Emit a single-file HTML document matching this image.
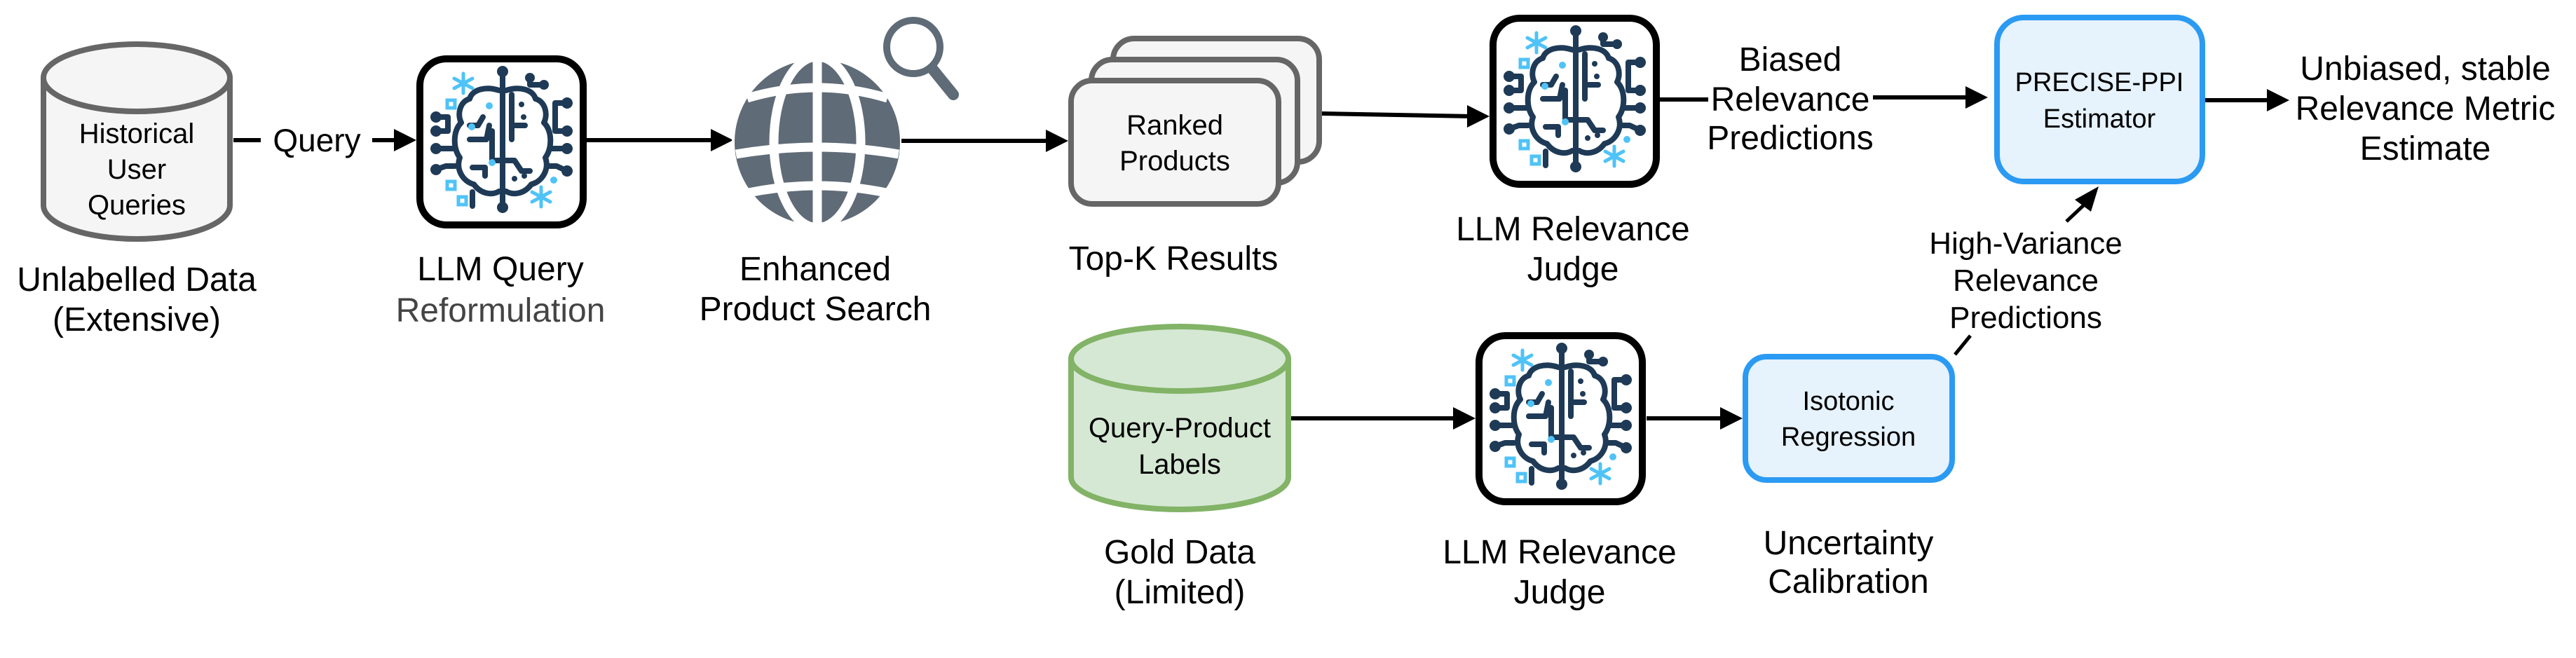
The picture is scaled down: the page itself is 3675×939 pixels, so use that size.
<!DOCTYPE html>
<html><head><meta charset="utf-8"><style>
html,body{margin:0;padding:0;background:#fff;}
svg{display:block;}
text{font-family:"Liberation Sans",Arial,sans-serif;fill:#000;}
</style></head><body>
<svg width="3675" height="939" viewBox="0 0 3675 939" xmlns="http://www.w3.org/2000/svg">

<!-- Cylinder 1 -->
<g stroke="#666" stroke-width="8" fill="#f5f5f5">
<path d="M62,111 L62,293 A133,48 0 0 0 328,293 L328,111"/>
<ellipse cx="195" cy="111" rx="133" ry="48"/>
</g>
<g font-size="40" text-anchor="middle">
<text x="195" y="204">Historical</text>
<text x="195" y="255">User</text>
<text x="195" y="306">Queries</text>
</g>
<g font-size="48" text-anchor="middle">
<text x="195" y="415">Unlabelled Data</text>
<text x="195" y="472">(Extensive)</text>
</g>

<!-- Query arrow -->
<line x1="333" y1="200" x2="372" y2="200" stroke="#000" stroke-width="6"/>
<text x="452" y="216" font-size="46" text-anchor="middle">Query</text>
<line x1="531" y1="200" x2="570" y2="200" stroke="#000" stroke-width="6"/>
<polygon points="594,200 562,184 562,216" fill="#000"/>

<g id="b1" transform="translate(594,79)">
<rect x="5" y="5" width="233" height="237" rx="38" fill="#fff" stroke="#000" stroke-width="10"/>
<g stroke="#1e3a56" stroke-width="8" fill="none" stroke-linecap="round" stroke-linejoin="round">
<path d="M118,50 C100,44 80,48 76,62 C62,66 58,84 64,96 C52,108 52,132 62,146 C56,162 66,180 82,184 C92,198 108,200 118,194"/>
<path d="M128,50 C146,44 166,48 170,62 C184,66 188,84 182,96 C194,108 194,132 184,146 C190,162 180,180 164,184 C154,198 138,200 128,194"/>
<line x1="123" y1="23" x2="123" y2="217"/>
<path d="M136,56 L136,120"/>
<path d="M108,108 L108,150 L123,150"/>
<path d="M76,120 L100,120 L104,100"/><path d="M76,100 L88,100 L95,88"/>
<path d="M80,160 L98,160 L98,172"/><path d="M136,100 L155,100"/><path d="M123,150 L140,150 L150,165 L162,165"/>
<path d="M28,88 L45,88 L45,108 L28,108"/><line x1="28" y1="133" x2="55" y2="133"/>
<path d="M28,163 L42,158 L55,158"/>
<path d="M215,68 L198,68 L198,108 L215,108"/><line x1="190" y1="133" x2="215" y2="133"/>
<path d="M215,165 L200,158 L190,158"/>
<path d="M162,32 L162,42 L180,42"/>
<line x1="80" y1="195" x2="80" y2="215"/>
</g>
<g fill="#1e3a56">
<circle cx="123" cy="23" r="8"/><circle cx="123" cy="217" r="8"/>
<circle cx="28" cy="88" r="8"/><circle cx="28" cy="108" r="8"/><circle cx="28" cy="133" r="8"/><circle cx="28" cy="163" r="8"/>
<circle cx="215" cy="68" r="8"/><circle cx="215" cy="108" r="8"/><circle cx="215" cy="133" r="8"/><circle cx="215" cy="165" r="8"/>
<circle cx="162" cy="32" r="7"/><circle cx="182" cy="42" r="7"/>
<circle cx="150" cy="70" r="4"/><circle cx="153" cy="88" r="4"/><circle cx="140" cy="176" r="4"/><circle cx="154" cy="172" r="4"/>
</g>
<g stroke="#4fc3f7" stroke-width="5" fill="none" stroke-linecap="round">
<path d="M67,26 L67,54 M54,33 L80,47 M54,47 L80,33"/>
<path d="M178,188 L178,216 M165,195 L191,209 M165,209 L191,195"/>
<rect x="44" y="64" width="11" height="11"/><rect x="44" y="180" width="11" height="11"/><rect x="60" y="202" width="11" height="11"/>
</g>
<g fill="#4fc3f7"><circle cx="104" cy="72" r="5"/><circle cx="79" cy="102" r="5"/><circle cx="108" cy="153" r="5"/><circle cx="196" cy="178" r="5"/></g>
</g>
<g font-size="48" text-anchor="middle">
<text x="714" y="400">LLM Query</text>
<text x="714" y="459" style="fill:#444">Reformulation</text>
</g>

<line x1="837" y1="200" x2="1022" y2="200" stroke="#000" stroke-width="6"/>
<polygon points="1046,200 1014,184 1014,216" fill="#000"/>

<!-- Globe -->
<circle cx="1166" cy="203" r="120" fill="#5f6b77"/>
<g stroke="#fff" stroke-width="13" fill="none">
<line x1="1166" y1="80" x2="1166" y2="326"/>
<ellipse cx="1166" cy="203" rx="62" ry="122"/>
<path d="M1066,140 Q1166,110 1266,140"/>
<path d="M1050,220 Q1166,200 1282,220"/>
<path d="M1068,275 Q1166,255 1264,275"/>
</g>
<circle cx="1166" cy="203" r="120" fill="none" stroke="#fff" stroke-width="4"/>
<circle cx="1303" cy="67" r="38" fill="none" stroke="#5f6b77" stroke-width="10"/>
<line x1="1330" y1="98" x2="1360" y2="135" stroke="#5f6b77" stroke-width="16" stroke-linecap="round"/>
<g font-size="48" text-anchor="middle">
<text x="1163" y="400">Enhanced</text>
<text x="1163" y="457">Product Search</text>
</g>

<line x1="1286" y1="201" x2="1500" y2="201" stroke="#000" stroke-width="6"/>
<polygon points="1524,201 1492,185 1492,217" fill="#000"/>

<g stroke="#666" stroke-width="8" fill="#f5f5f5">
<rect x="1588" y="55" width="294" height="176" rx="30"/>
<rect x="1557" y="85" width="294" height="176" rx="30"/>
<rect x="1528" y="115" width="296" height="176" rx="30"/>
</g>
<g font-size="40" text-anchor="middle">
<text x="1676" y="192">Ranked</text>
<text x="1676" y="243">Products</text>
</g>
<text x="1674" y="385" font-size="48" text-anchor="middle">Top-K Results</text>

<line x1="1886" y1="162" x2="2100" y2="166" stroke="#000" stroke-width="6"/>
<polygon points="2125,166 2093,150 2093,182" fill="#000"/>

<use href="#b1" transform="translate(1531,-58)"/>
<g font-size="48" text-anchor="middle">
<text x="2244" y="343">LLM Relevance</text>
<text x="2244" y="400">Judge</text>
</g>

<line x1="2366" y1="142" x2="2437" y2="142" stroke="#000" stroke-width="6"/>
<g font-size="48" text-anchor="middle">
<text x="2554" y="101">Biased</text>
<text x="2554" y="158">Relevance</text>
<text x="2554" y="213">Predictions</text>
</g>
<line x1="2672" y1="139" x2="2812" y2="139" stroke="#000" stroke-width="6"/>
<polygon points="2836,139 2804,123 2804,155" fill="#000"/>

<rect x="2849" y="25" width="293" height="234" rx="38" fill="#e6f2fc" stroke="#2b9af3" stroke-width="8"/>
<g font-size="38" text-anchor="middle">
<text x="2995" y="130">PRECISE-PPI</text>
<text x="2995" y="182">Estimator</text>
</g>
<line x1="3146" y1="143" x2="3242" y2="143" stroke="#000" stroke-width="6"/>
<polygon points="3266,143 3234,127 3234,159" fill="#000"/>
<g font-size="48" text-anchor="middle">
<text x="3460" y="114">Unbiased, stable</text>
<text x="3460" y="171">Relevance Metric</text>
<text x="3460" y="228">Estimate</text>
</g>

<line x1="2789" y1="506" x2="2811" y2="479" stroke="#000" stroke-width="5"/>
<line x1="2948" y1="316" x2="2980" y2="286" stroke="#000" stroke-width="5"/>
<polygon points="2994,266 2960,285 2983,302" fill="#000"/>
<g font-size="44" text-anchor="middle">
<text x="2890" y="362">High-Variance</text>
<text x="2890" y="415">Relevance</text>
<text x="2890" y="468">Predictions</text>
</g>

<g stroke="#82b366" stroke-width="8" fill="#d5e8d4">
<path d="M1528,512 L1528,681 A155,46 0 0 0 1838,681 L1838,512"/>
<ellipse cx="1683" cy="512" rx="155" ry="46"/>
</g>
<g font-size="40" text-anchor="middle">
<text x="1683" y="624">Query-Product</text>
<text x="1683" y="676">Labels</text>
</g>
<g font-size="48" text-anchor="middle">
<text x="1683" y="804">Gold Data</text>
<text x="1683" y="861">(Limited)</text>
</g>

<line x1="1842" y1="597" x2="2081" y2="597" stroke="#000" stroke-width="6"/>
<polygon points="2105,597 2073,581 2073,613" fill="#000"/>
<use href="#b1" transform="translate(1511,395)"/>
<g font-size="48" text-anchor="middle">
<text x="2225" y="804">LLM Relevance</text>
<text x="2225" y="861">Judge</text>
</g>

<line x1="2349" y1="597" x2="2462" y2="597" stroke="#000" stroke-width="6"/>
<polygon points="2486,597 2454,581 2454,613" fill="#000"/>

<rect x="2490" y="509" width="295" height="176" rx="30" fill="#e6f2fc" stroke="#2b9af3" stroke-width="8"/>
<g font-size="38" text-anchor="middle">
<text x="2637" y="585">Isotonic</text>
<text x="2637" y="636">Regression</text>
</g>
<g font-size="48" text-anchor="middle">
<text x="2637" y="791">Uncertainty</text>
<text x="2637" y="846">Calibration</text>
</g>
</svg>
</body></html>
